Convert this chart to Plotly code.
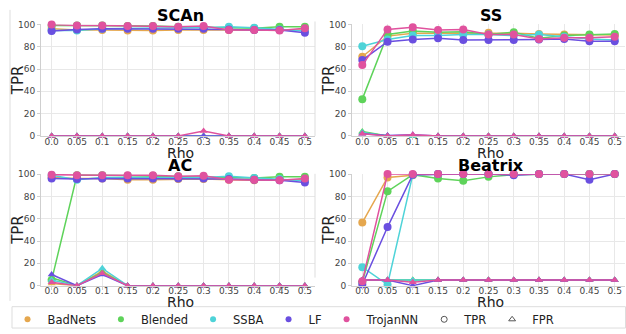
import plotly.graph_objects as go

W, H = 626, 334

rho = [0.0, 0.05, 0.1, 0.15, 0.2, 0.25, 0.3, 0.35, 0.4, 0.45, 0.5]
rho_labels = ["0.0", "0.05", "0.1", "0.15", "0.2", "0.25", "0.3", "0.35", "0.4", "0.45", "0.5"]
methods = ["BadNets", "Blended", "SSBA", "LF", "TrojanNN"]
colors = ["#e5a74e", "#5ed35a", "#4ed3d8", "#6a4fe0", "#e0529e"]
defenses = ["SCAn", "SS", "AC", "Beatrix"]

# TPR values per defense, per attack
scan_tpr = {
    "BadNets":  [96, 95, 95, 94.5, 94.5, 95, 95, 95, 95, 95, 95],
    "Blended":  [99, 99, 99, 98.5, 98.5, 98, 97.5, 97, 96.5, 98, 98],
    "SSBA":     [94.5, 94.5, 96, 96.5, 97, 97, 97, 98, 97, 95.5, 94],
    "LF":       [94, 95.5, 96, 96, 96, 96, 96, 95.5, 95, 95, 92.5],
    "TrojanNN": [100, 99, 99, 98.5, 98.5, 98, 98.5, 95, 95, 94.5, 96.5],
}
scan_fpr = {
    "BadNets":  [0, 0, 0, 0, 0, 0, 0, 0, 0, 0, 0],
    "Blended":  [0, 0, 0, 0, 0, 0, 0, 0, 0, 0, 0],
    "SSBA":     [0, 0, 0, 0, 0, 0, 0, 0, 0, 0, 0],
    "LF":       [0, 0, 0, 0, 0, 0, 0, 0, 0, 0, 0],
    "TrojanNN": [0, 0, 0, 0, 0, 0, 4.5, 0, 0, 0, 0],
}
ss_tpr = {
    "BadNets":  [71, 89.5, 92, 92, 92, 92.5, 92, 91.5, 91, 90.5, 90.5],
    "Blended":  [33, 91, 94, 93, 93.5, 91, 93, 87.5, 90, 91, 91.5],
    "SSBA":     [80.5, 86.5, 90, 90, 91, 91, 90, 91, 89, 87, 86],
    "LF":       [68, 84.5, 86.5, 87.5, 86, 86, 86, 86.5, 87, 85, 85],
    "TrojanNN": [63.5, 95.5, 97.5, 95, 95.5, 91, 91, 87, 88, 88, 89],
}
ss_fpr = {
    "BadNets":  [3, 0, 0, 0, 0, 0, 0, 0, 0, 0, 0],
    "Blended":  [4, 0, 0, 0, 0, 0, 0, 0, 0, 0, 0],
    "SSBA":     [3, 0, 0, 0, 0, 0, 0, 0, 0, 0, 0],
    "LF":       [2, 0.5, 1, 0, 0, 0, 0, 0, 0, 0, 0],
    "TrojanNN": [2, 0, 1, 0, 0, 0, 0, 0, 0, 0, 0],
}
ac_tpr = {
    "BadNets":  [97, 96, 96, 95, 95, 95.5, 95.5, 95, 94.5, 95, 95],
    "Blended":  [5, 99, 99, 98.5, 98.5, 98, 97.5, 97, 96.5, 97.5, 97.5],
    "SSBA":     [99, 95, 97, 97, 97, 97, 97, 98, 96.5, 95.5, 94],
    "LF":       [96, 95.5, 96, 96, 96, 96, 96, 95.5, 95, 94.5, 92.5],
    "TrojanNN": [99.5, 99, 99, 99, 99, 98, 98.5, 95, 95, 94.5, 96],
}
ac_fpr = {
    "BadNets":  [2, 0, 13, 0, 0, 0, 0, 0, 0, 0, 0],
    "Blended":  [7, 0, 12, 0, 0, 0, 0, 0, 0, 0, 0],
    "SSBA":     [5, 0, 15.5, 0, 0, 0, 0, 0, 0, 0, 0],
    "LF":       [10, 0, 10, 0, 0, 0, 0, 0, 0, 0, 0],
    "TrojanNN": [3, 0, 11, 0, 0, 0, 0, 0, 0, 0, 0],
}
beatrix_tpr = {
    "BadNets":  [56.5, 97, 99, 100, 100, 100, 100, 100, 100, 100, 100],
    "Blended":  [3, 84.5, 99.5, 96, 94, 97.5, 99.5, 100, 100, 100, 100],
    "SSBA":     [16.5, 1, 99.5, 100, 100, 100, 100, 100, 100, 100, 100],
    "LF":       [1, 52.5, 99.5, 100, 100, 100, 99, 100, 100, 95, 100],
    "TrojanNN": [4, 100, 100, 100, 100, 100, 100, 100, 100, 100, 100],
}
beatrix_fpr = {
    "BadNets":  [5, 5, 5, 5, 5, 5, 5, 5, 5, 5, 5],
    "Blended":  [5, 5, 5, 5, 5, 5, 5, 5, 5, 5, 5],
    "SSBA":     [5, 5, 5, 5, 5, 5, 5, 5, 5, 5, 5],
    "LF":       [5, 5, 0, 5, 5, 5, 5, 5, 5, 5, 5],
    "TrojanNN": [5, 5, 3, 5, 5, 5, 5, 5, 5, 5, 5],
}
panel_tpr = [scan_tpr, ss_tpr, ac_tpr, beatrix_tpr]
panel_fpr = [scan_fpr, ss_fpr, ac_fpr, beatrix_fpr]

FONT = "DejaVu Sans"


def px_x(x):
    return x / W


def px_y(y):
    return 1 - y / H


# panel geometry in pixels: (left, right, top, bottom)
panels = [(41, 315, 20, 135), (352, 625, 20, 135), (41, 315, 174.3, 289.3), (352, 625, 174.3, 289.3)]
xranges = [[-0.021, 0.52], [-0.0204, 0.5204], [-0.021, 0.52], [-0.0204, 0.5204]]
rho_offsets = [18, 18, 17, 17]

fig = go.Figure()

for i, d in enumerate(defenses):
    ax = "" if i == 0 else str(i + 1)
    for m, c in zip(methods, colors):
        fig.add_trace(go.Scatter(
            x=rho, y=panel_tpr[i][m], mode="lines+markers",
            line=dict(color=c, width=1.5),
            marker=dict(symbol="circle", size=8, color=c),
            xaxis="x" + ax, yaxis="y" + ax, showlegend=False, cliponaxis=False))
        fig.add_trace(go.Scatter(
            x=rho, y=panel_fpr[i][m], mode="lines+markers",
            line=dict(color=c, width=1.5),
            marker=dict(symbol="triangle-up", size=7, color=c),
            xaxis="x" + ax, yaxis="y" + ax, showlegend=False, cliponaxis=False))

# legend entries
for m, c in zip(methods, colors):
    fig.add_trace(go.Scatter(x=[None], y=[None], mode="markers", name=m,
                             marker=dict(symbol="circle", size=6, color=c)))
fig.add_trace(go.Scatter(x=[None], y=[None], mode="markers", name="TPR",
                         marker=dict(symbol="circle-open", size=6, color="#555")))
fig.add_trace(go.Scatter(x=[None], y=[None], mode="markers", name="FPR",
                         marker=dict(symbol="triangle-up-open", size=6, color="#555")))

layout = dict(
    width=W, height=H, margin=dict(l=0, r=0, t=0, b=0),
    paper_bgcolor="white", plot_bgcolor="white",
    font=dict(family=FONT, color="#222"),
    legend=dict(orientation="h", x=0.012, y=px_y(324), yanchor="middle", xanchor="left",
                font=dict(size=11.5, family=FONT, color="#222"), bgcolor="rgba(0,0,0,0)",
                borderwidth=0, itemwidth=30),
)

annotations = []
shapes = []
for i, d in enumerate(defenses):
    l, r, t, b = panels[i]
    sfx = "" if i == 0 else str(i + 1)
    layout["xaxis" + sfx] = dict(
        domain=[px_x(l), px_x(r)], range=xranges[i], anchor="y" + sfx,
        tickvals=rho, ticktext=rho_labels, showgrid=True, gridcolor="#e8e8e8",
        showline=True, linecolor="#cfcfcf", ticks="outside", ticklen=3, tickcolor="#cfcfcf",
        tickfont=dict(size=9, color="#444"), zeroline=False, ticklabelstandoff=-6)
    layout["yaxis" + sfx] = dict(
        domain=[px_y(b), px_y(t)], range=[0, 100], anchor="x" + sfx,
        tickvals=[0, 20, 40, 60, 80, 100], showgrid=True, gridcolor="#e8e8e8",
        showline=True, linecolor="#cfcfcf", ticks="outside", ticklen=3, tickcolor="#cfcfcf",
        tickfont=dict(size=9, color="#444"), zeroline=False)
    cx = (l + r) / 2 + 2
    annotations.append(dict(text="<b>%s</b>" % d, x=px_x(cx), y=px_y(t - 9), xref="paper", yref="paper",
                            showarrow=False, font=dict(size=16, color="black", family=FONT),
                            xanchor="center", yanchor="middle"))
    annotations.append(dict(text="Rho", x=px_x(cx), y=px_y(b + rho_offsets[i]), xref="paper", yref="paper",
                            showarrow=False, font=dict(size=14, color="#222", family=FONT),
                            xanchor="center", yanchor="middle"))
    annotations.append(dict(text="TPR", x=px_x(l - 23), y=px_y((t + b) / 2), xref="paper", yref="paper",
                            showarrow=False, textangle=-90, font=dict(size=15, color="#222", family=FONT),
                            xanchor="center", yanchor="middle"))

# figure frame decorations
line_style = dict(color="#dddddd", width=1)
shapes.append(dict(type="line", xref="paper", yref="paper", x0=px_x(10), x1=px_x(10), y0=px_y(5), y1=px_y(305), line=line_style))
shapes.append(dict(type="line", xref="paper", yref="paper", x0=px_x(315), x1=px_x(315), y0=px_y(17), y1=px_y(135), line=line_style))
shapes.append(dict(type="line", xref="paper", yref="paper", x0=px_x(315), x1=px_x(315), y0=px_y(174), y1=px_y(281), line=line_style))
shapes.append(dict(type="rect", xref="paper", yref="paper", x0=px_x(12), x1=px_x(625.5), y0=px_y(333), y1=px_y(311),
                   line=line_style, layer="below"))

layout["annotations"] = annotations
layout["shapes"] = shapes
fig.update_layout(**layout)

fig.write_html("out.html", config={"displayModeBar": False},
               post_script="document.body.style.margin='0';document.body.style.overflow='hidden';")
